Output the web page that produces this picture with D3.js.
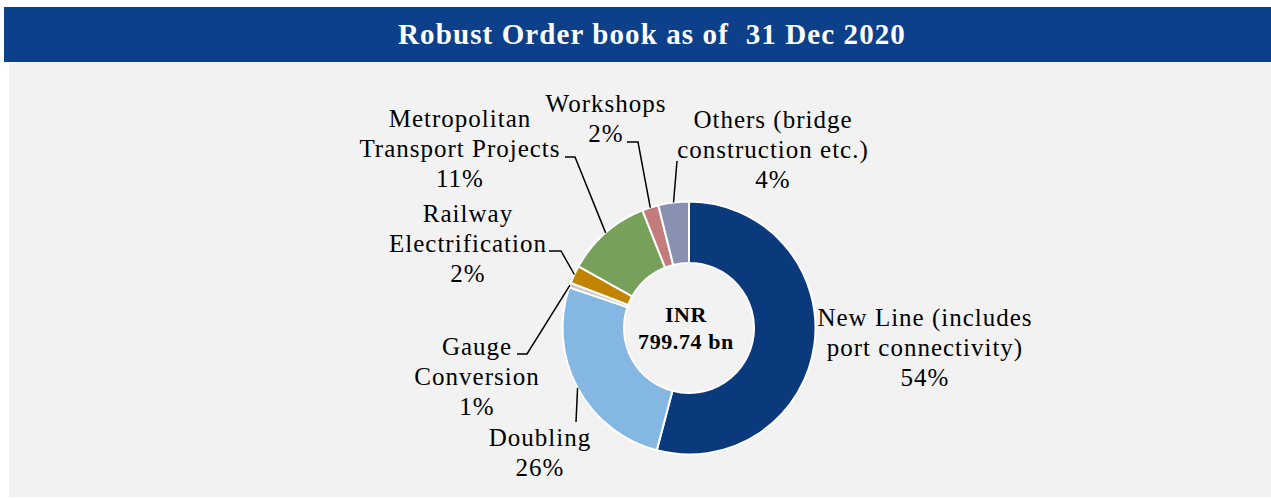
<!DOCTYPE html>
<html>
<head>
<meta charset="utf-8">
<script src="https://cdn.jsdelivr.net/npm/d3@7"></script>
<style>
  html, body { margin: 0; padding: 0; background: #fff; }
  svg { display: block; }
  text { font-family: "Liberation Serif", "DejaVu Serif", serif; white-space: pre; }
</style>
</head>
<body>
<div id="chart"></div>
<script>
// data
const segments = ["New Line (includes port connectivity)", "Doubling", "Gauge Conversion",
  "Railway Electrification", "Metropolitan Transport Projects", "Workshops",
  "Others (bridge construction etc.)"];
const shares = [54.1, 26.1, 0.6, 2.3, 10.9, 2.1, 3.9];
const shareLabels = ["54%", "26%", "1%", "2%", "11%", "2%", "4%"];
const labelLines = [
  ["New Line (includes", "port connectivity)"],
  ["Doubling"],
  ["Gauge", "Conversion"],
  ["Railway", "Electrification"],
  ["Metropolitan", "Transport Projects"],
  ["Workshops"],
  ["Others (bridge", "construction etc.)"]
];
const colors = ["#0a3a7c", "#85b7e3", "#c8c8c8", "#c08400", "#77a05a", "#c27c7c", "#8891b1"];
const title = "Robust Order book as of  31 Dec 2020";
const centerLines = ["INR", "799.74 bn"];

const width = 1271, height = 498;
const cx = 689, cy = 328;
const outerR = 126.5, innerR = 65;

// label placement: text centre x, first baseline y, elbow point + end of leader
const labelLayout = [
  { x: 925, y: 326, elbow: null },
  { x: 540, y: 446, elbow: [576, 422], end: [576, 422] },
  { x: 477, y: 355, elbow: [527, 354], end: [517, 354] },
  { x: 468, y: 222, elbow: [561, 251], end: [549, 251] },
  { x: 460, y: 127, elbow: [575, 157], end: [565, 157] },
  { x: 606, y: 112, elbow: [638, 142], end: [627, 142] },
  { x: 773, y: 128, elbow: [677, 161], end: [677, 161] }
];

const svg = d3.select("#chart").append("svg")
  .attr("width", width).attr("height", height);

// background panel + title bar
svg.append("rect").attr("x", 9).attr("y", 62).attr("width", width - 9).attr("height", 435)
  .attr("fill", "#f2f2f2");
svg.append("rect").attr("x", 4).attr("y", 7).attr("width", width - 4).attr("height", 55)
  .attr("fill", "#0c408a");
svg.append("text")
  .attr("x", 652).attr("y", 44)
  .attr("text-anchor", "middle")
  .attr("fill", "#fff")
  .attr("font-size", "29px")
  .attr("letter-spacing", "1.1px")
  .attr("font-weight", "bold")
  .text(title);

const data = segments.map((s, i) => ({ name: s, value: shares[i], i }));

const pie = d3.pie().value(d => d.value).sort(null);
const arcs = pie(data);
const arc = d3.arc().innerRadius(innerR).outerRadius(outerR);

const g = svg.append("g").attr("transform", `translate(${cx},${cy})`);

g.selectAll("path.slice")
  .data(arcs)
  .join("path")
  .attr("class", "slice")
  .attr("d", arc)
  .attr("fill", d => colors[d.data.i])
  .attr("stroke", "#fff")
  .attr("stroke-width", 2);

// leader lines
arcs.forEach(a => {
  const L = labelLayout[a.data.i];
  if (!L.elbow) return;
  const mid = (a.startAngle + a.endAngle) / 2;
  const px = cx + Math.sin(mid) * outerR;
  const py = cy - Math.cos(mid) * outerR;
  svg.append("polyline")
    .attr("points", [[px, py], L.elbow, L.end].map(p => p.join(",")).join(" "))
    .attr("fill", "none")
    .attr("stroke", "#000")
    .attr("stroke-width", 1.5);
});

// labels
const lineH = 30;
arcs.forEach(a => {
  const L = labelLayout[a.data.i];
  const lines = labelLines[a.data.i].concat([shareLabels[a.data.i]]);
  const t = svg.append("text")
    .attr("text-anchor", "middle")
    .attr("font-size", "25px")
    .attr("letter-spacing", "1px")
    .attr("fill", "#000");
  lines.forEach((ln, k) => {
    t.append("tspan").attr("x", L.x).attr("y", L.y + k * lineH).text(ln);
  });
});

// centre
centerLines.forEach((ln, k) => {
  svg.append("text")
    .attr("x", 686).attr("y", 322 + k * 27)
    .attr("text-anchor", "middle")
    .attr("font-size", "22px")
    .attr("letter-spacing", "0.6px")
    .attr("font-weight", "bold")
    .attr("fill", "#000")
    .text(ln);
});
</script>
</body>
</html>
